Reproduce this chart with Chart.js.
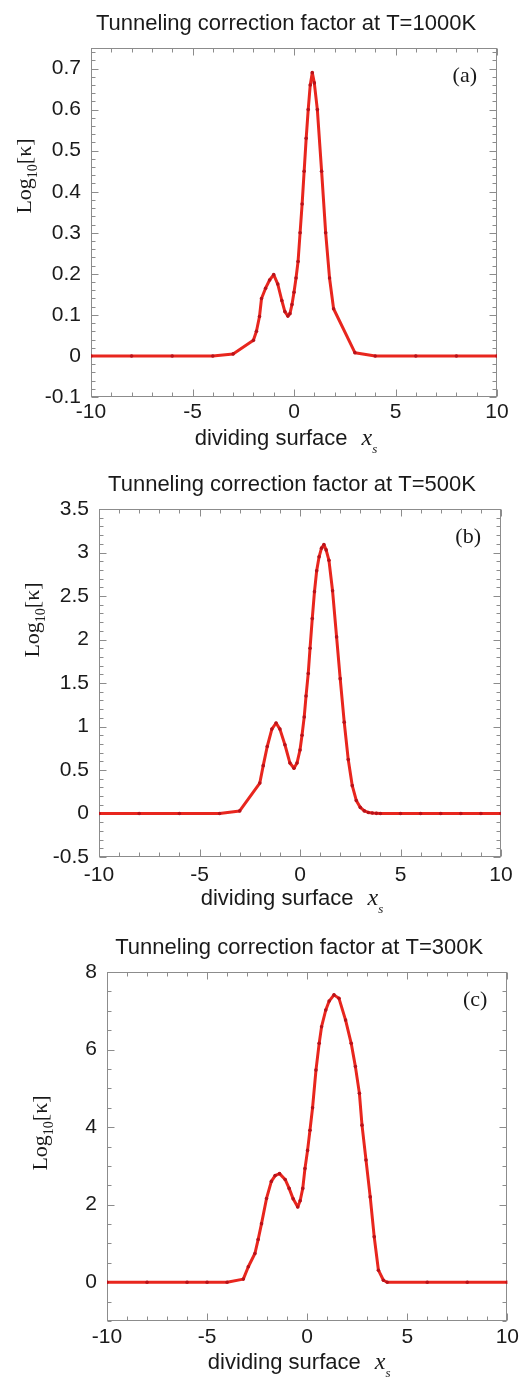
<!DOCTYPE html>
<html>
<head>
<meta charset="utf-8">
<script src="https://cdn.jsdelivr.net/npm/chart.js@4.4.1/dist/chart.umd.min.js"></script>
<style>
  body { margin: 0; background: #fff; }
  #page { position: relative; width: 523px; height: 1378px; }
  canvas { position: absolute; left: 0; }
</style>
</head>
<body>
<div id="page">
  <canvas id="chartA" width="523" height="460" style="top:0px"></canvas>
  <canvas id="chartB" width="523" height="460" style="top:460px"></canvas>
  <canvas id="chartC" width="523" height="458" style="top:920px"></canvas>
</div>
<script>
// shared x axis
const xTicks = [-10, -5, 0, 5, 10];

// (a) T=1000K
const xA = [-10, -8, -6, -4, -3, -2, -1.85, -1.7, -1.6, -1.4, -1.2, -1.0, -0.8, -0.6, -0.45, -0.3, -0.2, -0.1, 0, 0.1, 0.2, 0.3, 0.4, 0.5, 0.6, 0.7, 0.8, 0.9, 1.0, 1.15, 1.36, 1.56, 1.75, 1.95, 3.0, 4, 6, 8, 10];
const yA = [0, 0, 0, 0, 0.005, 0.038, 0.06, 0.096, 0.14, 0.165, 0.185, 0.198, 0.175, 0.135, 0.108, 0.097, 0.103, 0.125, 0.155, 0.19, 0.23, 0.30, 0.37, 0.45, 0.53, 0.60, 0.66, 0.69, 0.665, 0.60, 0.45, 0.30, 0.19, 0.115, 0.008, 0, 0, 0, 0];
const yTicksA = [-0.1, 0, 0.1, 0.2, 0.3, 0.4, 0.5, 0.6, 0.7];

// (b) T=500K
const xB = [-10, -8, -6, -4, -3, -2, -1.83, -1.63, -1.4, -1.19, -1.0, -0.75, -0.5, -0.3, -0.15, 0, 0.1, 0.21, 0.3, 0.41, 0.5, 0.61, 0.72, 0.83, 0.95, 1.07, 1.19, 1.3, 1.44, 1.62, 1.82, 2.0, 2.2, 2.4, 2.6, 2.8, 3.0, 3.2, 3.4, 3.6, 3.8, 4, 5, 6, 7, 8, 9, 10];
const yB = [0, 0, 0, 0, 0.03, 0.35, 0.55, 0.77, 0.97, 1.04, 0.97, 0.79, 0.58, 0.52, 0.58, 0.73, 0.9, 1.11, 1.35, 1.61, 1.9, 2.24, 2.55, 2.79, 2.95, 3.05, 3.09, 3.03, 2.91, 2.56, 2.03, 1.55, 1.05, 0.62, 0.32, 0.15, 0.07, 0.03, 0.012, 0.005, 0.002, 0, 0, 0, 0, 0, 0, 0];
const yTicksB = [-0.5, 0, 0.5, 1, 1.5, 2, 2.5, 3, 3.5];

// (c) T=300K
const xC = [-10, -8, -6, -5, -4, -3.19, -2.94, -2.61, -2.45, -2.28, -2.03, -1.79, -1.6, -1.38, -1.1, -0.9, -0.7, -0.47, -0.35, -0.22, -0.11, 0.02, 0.14, 0.27, 0.44, 0.6, 0.72, 0.93, 1.1, 1.34, 1.59, 1.92, 2.2, 2.41, 2.61, 2.74, 2.94, 3.15, 3.35, 3.56, 3.81, 4, 6, 8, 10];
const yC = [0, 0, 0, 0, 0, 0.08, 0.4, 0.74, 1.1, 1.51, 2.16, 2.6, 2.75, 2.8, 2.65, 2.42, 2.15, 1.94, 2.1, 2.42, 2.93, 3.4, 3.92, 4.5, 5.47, 6.16, 6.59, 7.02, 7.25, 7.41, 7.32, 6.76, 6.16, 5.56, 4.87, 4.05, 3.15, 2.2, 1.17, 0.31, 0.05, 0, 0, 0, 0];
const yTicksC = [0, 2, 4, 6, 8];

const SANS = '"Liberation Sans", Arial, sans-serif';
const SERIF = '"Liberation Serif", "Times New Roman", serif';

// frame with inward ticks on all four sides
const framePlugin = {
  id: 'frame',
  beforeDatasetsDraw(chart, args, opts) {
    const ctx = chart.ctx, a = chart.chartArea;
    const xs = chart.scales.x, ys = chart.scales.y;
    const L = Math.round(a.left) + 0.5, R = Math.round(a.right) - 0.5;
    const T = Math.round(a.top) + 0.5, B = Math.round(a.bottom) - 0.5;
    ctx.save();
    ctx.strokeStyle = '#8c8c8c';
    ctx.lineWidth = 1;
    ctx.strokeRect(L, T, R - L, B - T);
    ctx.beginPath();
    for (let v = -10; v <= 10; v += 1) {
      const px = Math.round(xs.getPixelForValue(v)) + 0.5;
      const len = xTicks.includes(v) ? 7 : 4;
      ctx.moveTo(px, B); ctx.lineTo(px, B - len);
      ctx.moveTo(px, T); ctx.lineTo(px, T + len);
    }
    const step = opts.minor;
    for (let k = Math.ceil(ys.min / step); k * step <= ys.max + 1e-9; k++) {
      const v = k * step;
      const py = Math.round(ys.getPixelForValue(v)) + 0.5;
      const major = opts.ticks.some(t => Math.abs(t - v) < 1e-9);
      const len = major ? 7 : 4;
      ctx.moveTo(L, py); ctx.lineTo(L + len, py);
      ctx.moveTo(R, py); ctx.lineTo(R - len, py);
    }
    ctx.stroke();
    ctx.restore();
  },
  afterDraw(chart, args, opts) {
    const ctx = chart.ctx, a = chart.chartArea;
    const cx = (a.left + a.right) / 2 - 8;
    ctx.save();
    ctx.fillStyle = '#1a1a1a';

    // title
    ctx.font = '22px ' + SANS;
    ctx.textAlign = 'center';
    ctx.textBaseline = 'alphabetic';
    ctx.fillText(opts.title, cx, a.top - 18);

    // panel tag
    ctx.font = '22px ' + SERIF;
    ctx.textAlign = 'right';
    ctx.textBaseline = 'middle';
    ctx.fillText(opts.tag, a.right - 20, a.top + 28);

    // x label: dividing surface  x_s
    ctx.textAlign = 'left';
    ctx.textBaseline = 'alphabetic';
    ctx.font = '22px ' + SANS;
    const t1 = 'dividing surface';
    const w1 = ctx.measureText(t1).width;
    ctx.font = 'italic 24px ' + SERIF;
    const wx = ctx.measureText('x').width;
    ctx.font = 'italic 13px ' + SERIF;
    const ws = ctx.measureText('s').width;
    const gap = 14;
    let x0 = cx - (w1 + gap + wx + ws) / 2;
    const by = a.bottom + 48;
    ctx.font = '22px ' + SANS;
    ctx.fillText(t1, x0, by);
    x0 += w1 + gap;
    ctx.font = 'italic 24px ' + SERIF;
    ctx.fillText('x', x0, by);
    ctx.font = 'italic 13px ' + SERIF;
    ctx.fillText('s', x0 + wx, by + 8);

    // y label: Log10[κ]
    ctx.translate(a.left - 60, opts.yLabelY);
    ctx.rotate(-Math.PI / 2);
    ctx.font = '22px ' + SERIF;
    const wl = ctx.measureText('Log').width;
    const wk = ctx.measureText('[κ]').width;
    ctx.font = '14px ' + SERIF;
    const w10 = ctx.measureText('10').width;
    let y0 = -(wl + w10 + wk) / 2;
    ctx.font = '22px ' + SERIF;
    ctx.fillText('Log', y0, 0);
    ctx.font = '14px ' + SERIF;
    ctx.fillText('10', y0 + wl, 6);
    ctx.font = '22px ' + SERIF;
    ctx.fillText('[κ]', y0 + wl + w10, 0);
    ctx.restore();
  }
};

function makeChart(id, xs, ys, yTicks, yMin, yMax, cfg) {
  const points = xs.map((x, i) => ({ x: x, y: ys[i] }));
  return new Chart(document.getElementById(id), {
    type: 'scatter',
    data: {
      datasets: [{
        data: points,
        showLine: true,
        borderColor: '#e8261e',
        borderWidth: 3,
        borderJoinStyle: 'round',
        pointRadius: 1.8,
        pointBorderWidth: 0,
        pointBackgroundColor: '#b8121a',
        tension: 0
      }]
    },
    options: {
      responsive: false,
      animation: false,
      devicePixelRatio: 1,
      layout: { padding: { top: cfg.top, right: cfg.right, left: 0, bottom: 0 } },
      plugins: {
        legend: { display: false },
        tooltip: { enabled: false },
        frame: { title: cfg.title, tag: cfg.tag, minor: cfg.minor, ticks: yTicks, yLabelY: cfg.yLabelY }
      },
      scales: {
        x: {
          type: 'linear',
          min: -10,
          max: 10,
          afterBuildTicks: s => { s.ticks = xTicks.map(v => ({ value: v })); },
          afterFit: s => { s.height = cfg.xH; },
          grid: { display: false, drawTicks: false },
          border: { display: false },
          ticks: {
            font: { family: SANS, size: 21 },
            color: '#1a1a1a',
            padding: cfg.xPad,
            maxRotation: 0,
            autoSkip: false,
            callback: v => String(v)
          }
        },
        y: {
          type: 'linear',
          min: yMin,
          max: yMax,
          afterBuildTicks: s => { s.ticks = yTicks.map(v => ({ value: v })); },
          afterFit: s => { s.width = cfg.yW; },
          grid: { display: false, drawTicks: false },
          border: { display: false },
          ticks: {
            font: { family: SANS, size: 21 },
            color: '#1a1a1a',
            padding: 10,
            autoSkip: false,
            callback: v => String(v)
          }
        }
      }
    },
    plugins: [framePlugin]
  });
}

makeChart('chartA', xA, yA, yTicksA, -0.1, 0.75, {
  title: 'Tunneling correction factor at T=1000K', tag: '(a)', minor: 0.02,
  top: 48, right: 26, yW: 91, xH: 63, xPad: 3, yLabelY: 176
});
makeChart('chartB', xB, yB, yTicksB, -0.5, 3.5, {
  title: 'Tunneling correction factor at T=500K', tag: '(b)', minor: 0.1,
  top: 49, right: 22, yW: 99, xH: 63, xPad: 6, yLabelY: 160
});
makeChart('chartC', xC, yC, yTicksC, -1, 8, {
  title: 'Tunneling correction factor at T=300K', tag: '(c)', minor: 0.5,
  top: 52, right: 11, yW: 107, xH: 57, xPad: 4, yLabelY: 213
});
</script>
</body>
</html>
